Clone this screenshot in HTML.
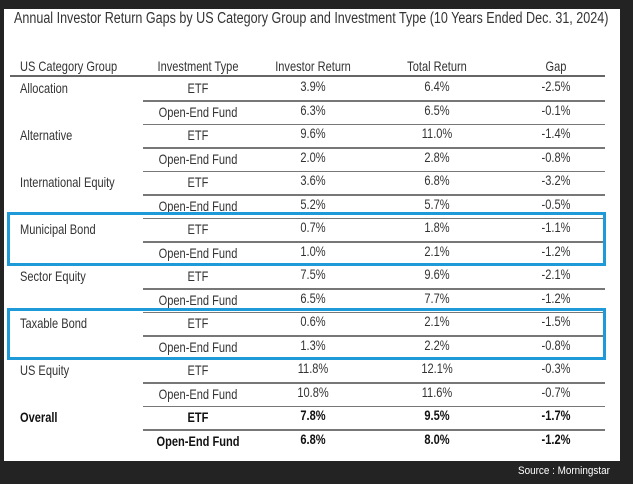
<!DOCTYPE html>
<html><head><meta charset="utf-8"><style>
html,body{margin:0;padding:0;background:#232323;width:633px;height:484px;overflow:hidden}
body{position:relative;font-family:"Liberation Sans",sans-serif;color:#333;font-size:14px}
#panel{position:absolute;left:4px;top:9px;width:616px;height:452px;background:#fff}
.t{position:absolute;white-space:nowrap;line-height:16px;transform:scaleX(0.79);transform-origin:0 50%}
.c{transform:translateX(-50%) scaleX(0.79);transform-origin:50% 50%}
.ln{position:absolute;height:1.5px;background:#777}
.box{position:absolute;border:3px solid #1e9ad8;box-sizing:border-box}
b{font-weight:bold;color:#111}
</style></head><body>
<div id="panel"></div>
<div class="t" style="left:14px;top:11px;font-size:15.5px;transform:scaleX(0.81);color:#333">Annual Investor Return Gaps by US Category Group and Investment Type (10 Years Ended Dec. 31, 2024)</div>
<div class="ln" style="left:10px;width:595px;top:75px;height:2px;background:#666"></div>
<div id="rows"></div>
<div class="box" style="left:7px;top:212px;width:599px;height:54px"></div>
<div class="box" style="left:7px;top:308px;width:599px;height:52px"></div>
<div class="t" style="left:518px;top:463px;color:#fff;font-size:11px;transform:scaleX(0.9)">Source : Morningstar</div>
<script>
var rows=[
["Allocation","ETF","3.9%","6.4%","-2.5%"],["","Open-End Fund","6.3%","6.5%","-0.1%"],
["Alternative","ETF","9.6%","11.0%","-1.4%"],["","Open-End Fund","2.0%","2.8%","-0.8%"],
["International Equity","ETF","3.6%","6.8%","-3.2%"],["","Open-End Fund","5.2%","5.7%","-0.5%"],
["Municipal Bond","ETF","0.7%","1.8%","-1.1%"],["","Open-End Fund","1.0%","2.1%","-1.2%"],
["Sector Equity","ETF","7.5%","9.6%","-2.1%"],["","Open-End Fund","6.5%","7.7%","-1.2%"],
["Taxable Bond","ETF","0.6%","2.1%","-1.5%"],["","Open-End Fund","1.3%","2.2%","-0.8%"],
["US Equity","ETF","11.8%","12.1%","-0.3%"],["","Open-End Fund","10.8%","11.6%","-0.7%"],
["Overall","ETF","7.8%","9.5%","-1.7%"],["","Open-End Fund","6.8%","8.0%","-1.2%"]];
var h='';
var hd=["US Category Group","Investment Type","Investor Return","Total Return","Gap"];
var cx=[198,313,437,556];
h+='<div class="t" style="left:20px;top:58px">'+hd[0]+'</div>';
for(var j=1;j<5;j++)h+='<div class="t c" style="left:'+cx[j-1]+'px;top:58px">'+hd[j]+'</div>';
for(var i=0;i<rows.length;i++){
 var y=80+i*23.5, r=rows[i], bold=i>=14;
 var w=function(s){return bold?'<b>'+s+'</b>':s};
 if(r[0])h+='<div class="t" style="left:20px;top:'+y+'px">'+w(r[0])+'</div>';
 h+='<div class="t c" style="left:198px;top:'+y+'px">'+w(r[1])+'</div>';
 for(var j=2;j<5;j++)h+='<div class="t c" style="left:'+cx[j-1]+'px;top:'+(y-2)+'px">'+w(r[j])+'</div>';
 if(i>0)h+='<div class="ln" style="left:143px;width:462px;top:'+(y-3.5)+'px"></div>';
}
document.getElementById('rows').innerHTML=h;
</script>
</body></html>
